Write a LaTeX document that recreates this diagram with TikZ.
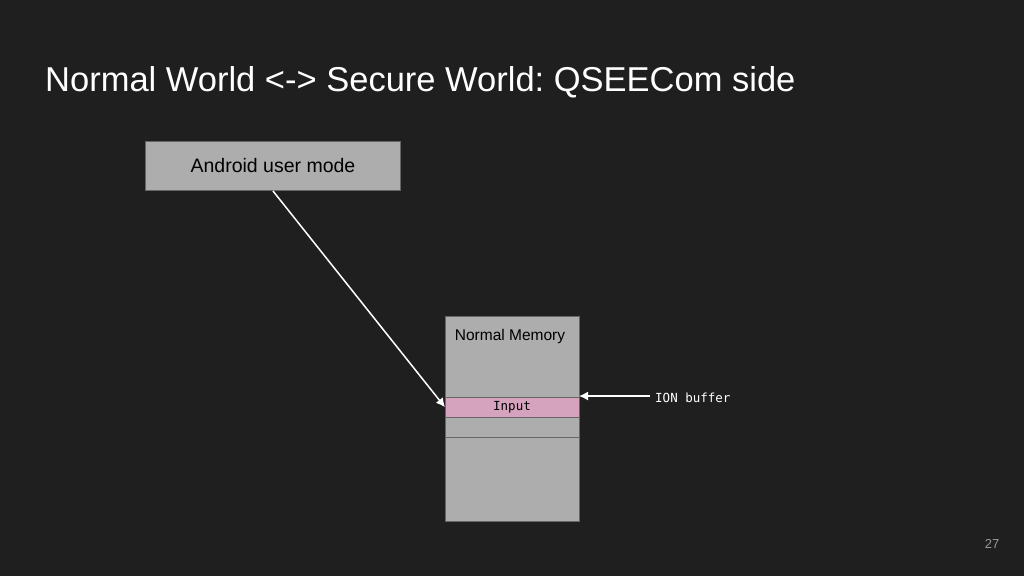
\documentclass[tikz,border=0pt]{standalone}
\usepackage{fontspec}
\setmainfont{Liberation Sans}
\newfontfamily\monof{DejaVu Sans Mono}
\usetikzlibrary{arrows.meta}
\definecolor{inpink}{HTML}{D6A3BE}
\frenchspacing
\begin{document}
\begin{tikzpicture}[x=1pt,y=-1pt,
  box/.style={draw=black!60,fill=black!32,line width=0.6pt,inner sep=0pt},
  arr/.style={white,line width=1.5pt,-{Latex[length=9pt,width=9pt]}}]
\fill[black!88] (0,0) rectangle (1024,576);
\useasboundingbox (0,0) rectangle (1024,576);
\node[anchor=west,white,inner sep=0pt,font=\fontsize{34.5}{38}\selectfont] (title) at (45,82) {Normal World <-> Secure World: QSEECom side};
\node[box,minimum width=255pt,minimum height=49pt,anchor=north west] (android) at (145,141) {};
\node[font=\fontsize{19.5}{22}\selectfont] at (273,166) {Android user mode};
\node[box,minimum width=134pt,minimum height=205pt,anchor=north west] (mem) at (445,316) {};
\node[font=\fontsize{15.5}{18}\selectfont] (memlbl) at (510,336) {Normal Memory};
\node[draw=black!60,fill=inpink,minimum width=134pt,minimum height=20pt,anchor=north west,inner sep=0pt] (input) at (445,397) {};
\node[font=\monof\fontsize{12.5}{14}\selectfont] at (512,407) {Input};
\draw[black!60,line width=0.8pt] (445,437) -- (579,437);
\node[white,anchor=west,inner sep=0pt,font=\monof\fontsize{12.5}{14}\selectfont] (ion) at (655,398) {ION buffer};
\coordinate (ionend) at (579,396);
\coordinate (ionstart) at (650,396);
\draw[arr] (ionstart) -- (ionend);
\draw[arr] (273,191) -- (input.west);
\node[black!40,font=\fontsize{13}{15}\selectfont] (pg) at (992,544) {27};
\end{tikzpicture}
\end{document}
